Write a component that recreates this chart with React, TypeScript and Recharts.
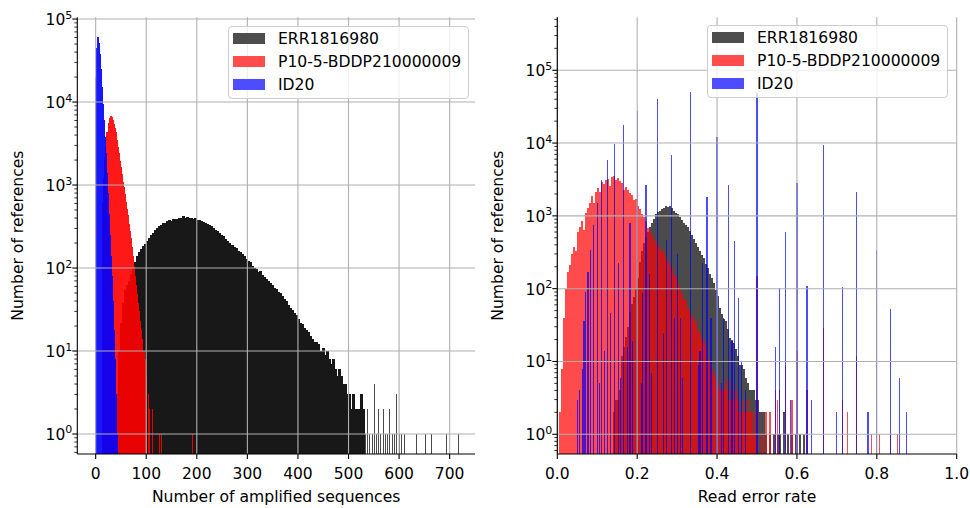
import React from 'react';
import { ComposedChart, Bar, XAxis, YAxis, ReferenceLine, Legend } from 'recharts';

// ---------------- data ----------------
const seriesNames = ['ERR1816980', 'P10-5-BDDP210000009', 'ID20'];
const legendColors = ['#4d4d4d', '#ff4d4d', '#4d4dff'];

// Left panel: number of amplified sequences per reference
const ampTicks = [0, 100, 200, 300, 400, 500, 600, 700];
const ampDomain: [number, number] = [-36.3, 750.1];
const ampCountDomain: [number, number] = [0.574, 105000];

const ampErrStart = 42;
const ampErrStep = 4;
const ampErrCounts = [
  3, 10, 22, 38, 55, 62, 70, 85, 100, 118,
  140, 155, 170, 182, 195, 210, 232, 250, 265, 285,
  300, 318, 330, 345, 352, 368, 378, 372, 388, 395,
  392, 405, 398, 418, 402, 410, 398, 405, 392, 396,
  380, 384, 366, 360, 352, 340, 332, 318, 305, 290,
  282, 265, 248, 240, 226, 214, 200, 192, 180, 172,
  162, 155, 146, 138, 128, 122, 118, 106, 100, 96,
  90, 92, 82, 78, 74, 70, 66, 62, 58, 56,
  52, 50, 46, 42, 40, 36, 33, 31, 29, 27,
  24, 22, 21, 19, 18, 17, 15, 14, 13, 13,
  12, 10, 11, 9, 10, 8, 7, 8, 6, 5,
  6, 5, 4, 4, 3, 3, 2, 3, 2, 2,
  2, 3, 2,
];
const ampErrTail: [number, number][] = [
  [534, 1], [538, 2], [542, 1], [547, 1], [551, 4], [556, 1], [560, 2], [564, 1],
  [569, 2], [573, 1], [578, 1], [582, 2], [587, 1], [591, 1], [595, 3], [600, 1],
  [605, 1], [611, 1], [635, 1], [652, 1], [664, 1], [694, 1], [717, 1],
];

const ampP10Start = 15;
const ampP10Step = 2;
const ampP10Counts = [
  600, 1200, 2000, 2900, 4300, 5600, 6400, 6800, 6850, 6600,
  6100, 5500, 4900, 4300, 3500, 2900, 2400, 1950, 1650, 1350,
  1100, 950, 780, 630, 520, 430, 340, 280, 230, 180,
  140, 105, 80, 62, 48, 38, 30, 23, 18, 14,
  10, 8, 5,
];
const ampP10Tail: [number, number][] = [[105, 3], [107, 2], [113, 2], [127, 1], [131, 1], [191, 1]];

const ampIdStart = 1;
const ampIdStep = 2;
const ampIdCounts = [
  20000, 45000, 60000, 52000, 38000, 25000, 15000, 9500, 6000, 3800,
  2400, 1400, 800, 450, 250, 140, 80, 40, 18, 8, 3, 1,
];

// Right panel: read error rate per reference
const rateTicks = [0, 0.2, 0.4, 0.6, 0.8, 1.0];
const rateDomain: [number, number] = [0, 1];
const rateCountDomain: [number, number] = [0.536, 534000];

const rateErrStart = 0.1425;
const rateErrStep = 0.005;
const rateErrCounts = [
  2, 3, 3, 4, 12, 16, 22, 30, 48, 62,
  76, 100, 142, 230, 330, 430, 520, 600, 700, 800,
  900, 1050, 1120, 1180, 1230, 1300, 1370, 1340, 1370, 1280,
  1170, 1100, 1050, 950, 880, 810, 760, 700, 620, 540,
  480, 420, 370, 330, 290, 260, 220, 195, 160, 140,
  120, 95, 80, 55, 45, 38, 36, 28, 21, 19,
  18, 15, 12, 9, 9, 8, 6, 5, 4, 4,
  4, 3, 3, 2, 2, 2, 1,
];
const rateErrTail: [number, number][] = [
  [0.5325, 1], [0.5425, 1], [0.5525, 1], [0.5575, 1], [0.5675, 2],
  [0.5775, 1], [0.5875, 1], [0.5975, 1], [0.6075, 1], [0.6175, 1],
];

const rateP10Start = 0.0075;
const rateP10Step = 0.005;
const rateP10Counts = [
  2, 8, 40, 100, 170, 210, 300, 370, 330, 600,
  700, 850, 640, 1100, 1300, 1500, 1900, 1500, 2100, 2400,
  2100, 2900, 2700, 3150, 3200, 2600, 3400, 3500, 3100, 3300,
  3000, 2800, 2300, 2500, 2300, 2050, 1950, 1650, 1700, 1350,
  1250, 1050, 950, 850, 680, 620, 560, 480, 430, 400,
  360, 330, 320, 270, 240, 210, 195, 160, 145, 115,
  100, 85, 72, 69, 55, 50, 42, 38, 35, 28,
  25, 21, 19, 17, 12, 10, 8, 7, 6, 5,
  4, 4, 5, 4, 6, 3, 5, 3, 4, 3,
  2, 3, 2, 2, 3, 2, 2, 1, 2,
];
const rateP10Spikes: [number, number][] = [
  [0.5, 150], [0.5125, 1], [0.5225, 2], [0.5325, 2], [0.5455, 4], [0.5513, 3], [0.5556, 4],
  [0.5714, 9], [0.5875, 3], [0.6, 14], [0.625, 4], [0.6667, 29], [0.7143, 3], [0.7275, 2],
  [0.75, 12], [0.7875, 1], [0.8075, 1], [0.8333, 1], [0.8525, 1],
];

const rateIdSpikes: [number, number][] = [
  [0.05, 3], [0.0556, 4], [0.0625, 8], [0.0667, 36], [0.0714, 91], [0.0769, 170], [0.0833, 340],
  [0.0909, 750], [0.1, 1480], [0.1053, 5], [0.1111, 3100], [0.1176, 14], [0.125, 5850], [0.1333, 46],
  [0.1429, 9800], [0.1538, 224], [0.1579, 6], [0.1667, 17500], [0.1765, 16], [0.1818, 790],
  [0.1875, 19], [0.2, 27500], [0.2105, 5], [0.2143, 87], [0.2222, 2650], [0.2308, 160], [0.2353, 7],
  [0.25, 40000], [0.2667, 25], [0.2727, 467], [0.2857, 6900], [0.2941, 40], [0.3, 300], [0.3077, 40],
  [0.3125, 6], [0.3333, 50000], [0.3529, 9], [0.3571, 14], [0.3636, 224], [0.375, 1830], [0.3846, 39],
  [0.4, 12000], [0.4118, 5], [0.4167, 40], [0.4286, 2650], [0.4375, 20], [0.4444, 455], [0.4545, 74],
  [0.4615, 10], [0.4706, 4], [0.5, 49000], [0.5455, 16], [0.5556, 101], [0.5714, 610], [0.5833, 3],
  [0.6, 2800], [0.625, 110], [0.6364, 3], [0.6667, 9400], [0.7, 2], [0.7143, 107], [0.75, 2150],
  [0.7778, 2], [0.8, 340], [0.8333, 53], [0.8571, 6], [0.875, 2],
];

const logMajors = [1, 10, 100, 1000, 10000, 100000];

// ---------------- helpers ----------------
const FONT = '"DejaVu Sans", sans-serif';

type Row = { x: number; [k: string]: number };

const fromBins = (start: number, step: number, counts: number[]): [number, number][] =>
  counts.map((c, i) => [Number((start + i * step).toFixed(6)), c]);

function buildRows(parts: { key: string; pts: [number, number][] }[]): Row[] {
  const m = new Map<string, Row>();
  parts.forEach(({ key, pts }) => {
    pts.forEach(([x, v]) => {
      const id = x.toFixed(6);
      let r = m.get(id);
      if (!r) {
        r = { x };
        m.set(id, r);
      }
      r[key] = v;
    });
  });
  return Array.from(m.values()).sort((a, b) => a.x - b.x);
}

function logTicks(lo: number, hi: number): number[] {
  const out: number[] = [];
  for (let e = -1; e <= 6; e++) {
    for (let s = 1; s <= 9; s++) {
      const v = Number((s * Math.pow(10, e)).toPrecision(6));
      if (v >= lo && v <= hi) out.push(v);
    }
  }
  return out;
}

const barShape = (w: number) => (p: any) => {
  const { x, y, width, height, fill } = p;
  if (!Number.isFinite(x) || !Number.isFinite(y) || !Number.isFinite(width) || !(height > 0)) return <g />;
  return <rect x={x + width / 2 - w / 2} y={y} width={w} height={height} fill={fill} />;
};

const LogYTick = (props: any) => {
  const { x, y, payload } = props;
  const v = payload.value;
  const lg = Math.log10(v);
  const e = Math.round(lg);
  const major = Math.abs(lg - e) < 1e-6;
  return (
    <g>
      <line x1={x} x2={x - (major ? 5 : 3)} y1={y} y2={y} stroke="#000" strokeWidth={major ? 1.1 : 0.8} />
      {major && (
        <text x={x - 5} y={y + 6} textAnchor="end" fontFamily={FONT} fontSize={15.5} fill="#000">
          10
          <tspan dy={-6.5} fontSize={11}>
            {e}
          </tspan>
        </text>
      )}
    </g>
  );
};

const makeXTick = (fmt: (v: number) => string) => (props: any) => {
  const { x, y, payload } = props;
  return (
    <g>
      <line x1={x} x2={x} y1={y} y2={y + 5} stroke="#000" strokeWidth={1.1} />
      <text x={x} y={y + 25} textAnchor="middle" fontFamily={FONT} fontSize={15.5} fill="#000">
        {fmt(payload.value)}
      </text>
    </g>
  );
};

const yTitle = (text: string) => (p: any) => {
  const vb = p.viewBox || {};
  const cx = vb.x + vb.width - 59.5;
  const cy = vb.y + vb.height / 2;
  return (
    <text
      x={cx}
      y={cy}
      transform={`rotate(-90 ${cx} ${cy})`}
      textAnchor="middle"
      dominantBaseline="central"
      fontFamily={FONT}
      fontSize={15.6}
      fill="#000"
    >
      {text}
    </text>
  );
};

const xTitle = (text: string) => (p: any) => {
  const vb = p.viewBox || {};
  return (
    <text x={vb.x + vb.width / 2} y={vb.y + 48} textAnchor="middle" fontFamily={FONT} fontSize={15.6} fill="#000">
      {text}
    </text>
  );
};

const LegendBox = () => (
  <div
    style={{
      background: 'rgba(255,255,255,0.8)',
      border: '1px solid #cccccc',
      borderRadius: 4,
      padding: '0px 6px 3px 4px',
      boxSizing: 'border-box',
      width: 241,
      height: 73,
      fontFamily: FONT,
      fontSize: 15.6,
      color: '#000',
    }}
  >
    {seriesNames.map((n, i) => (
      <div key={n} style={{ display: 'flex', alignItems: 'center', height: 23, whiteSpace: 'nowrap' }}>
        <span style={{ display: 'inline-block', width: 32, height: 11, background: legendColors[i], marginRight: 13 }} />
        {n}
      </div>
    ))}
  </div>
);

const css = `.op9 { opacity: 0.9; } .op7 { opacity: 0.7; } .op9 rect, .op7 rect { shape-rendering: crispEdges; }`;

const gridStroke = '#b0b0b0';

const ampRows = buildRows([
  { key: 'err', pts: fromBins(ampErrStart, ampErrStep, ampErrCounts) },
  { key: 'errTail', pts: ampErrTail },
  { key: 'p10', pts: fromBins(ampP10Start, ampP10Step, ampP10Counts) },
  { key: 'p10Tail', pts: ampP10Tail },
  { key: 'id', pts: fromBins(ampIdStart, ampIdStep, ampIdCounts) },
]);

const rateRows = buildRows([
  { key: 'err', pts: fromBins(rateErrStart, rateErrStep, rateErrCounts) },
  { key: 'errTail', pts: rateErrTail },
  { key: 'p10', pts: fromBins(rateP10Start, rateP10Step, rateP10Counts) },
  { key: 'p10Spk', pts: rateP10Spikes },
  { key: 'id', pts: rateIdSpikes },
]);

type PanelProps = {
  rows: Row[];
  xDomain: [number, number];
  yDomain: [number, number];
  xTicks: number[];
  xFmt: (v: number) => string;
  yWidth: number;
  rightMargin: number;
  xLabel: string;
  legendLeft: number;
  legendTop: number;
  bars: { key: string; color: string; cls: string; w: number }[];
};

function Panel(props: PanelProps) {
  const { rows, xDomain, yDomain, xTicks, xFmt, yWidth, rightMargin, xLabel, legendLeft, legendTop, bars } = props;
  const yTicksAll = logTicks(yDomain[0], yDomain[1]);
  return (
    <ComposedChart
      width={485}
      height={508}
      data={rows}
      margin={{ top: 17.3, right: rightMargin, bottom: 0, left: 0 }}
      barCategoryGap={0}
      barGap={0}
    >
      <XAxis
        xAxisId="x"
        dataKey="x"
        type="number"
        domain={xDomain}
        allowDataOverflow
        ticks={xTicks}
        interval={0}
        tick={makeXTick(xFmt)}
        tickLine={false}
        tickSize={0}
        tickMargin={0}
        height={54}
        axisLine={{ stroke: '#000', strokeWidth: 1.1 }}
        label={xTitle(xLabel)}
      />
      <XAxis
        xAxisId="top"
        orientation="top"
        dataKey="x"
        type="number"
        domain={xDomain}
        allowDataOverflow
        height={0}
        tick={false}
        tickLine={false}
        axisLine={{ stroke: '#000', strokeWidth: 1.1 }}
      />
      {bars.map((b) => (
        <XAxis
          key={'ax-' + b.key}
          xAxisId={'ax-' + b.key}
          dataKey="x"
          type="number"
          domain={xDomain}
          allowDataOverflow
          height={0}
          hide
        />
      ))}
      <YAxis
        yAxisId="y"
        type="number"
        scale="log"
        domain={yDomain}
        allowDataOverflow
        ticks={yTicksAll}
        interval={0}
        tick={<LogYTick />}
        tickLine={false}
        tickSize={0}
        tickMargin={0}
        width={yWidth}
        axisLine={{ stroke: '#000', strokeWidth: 1.1 }}
        label={yTitle('Number of references')}
      />
      <YAxis
        yAxisId="right"
        orientation="right"
        type="number"
        scale="log"
        domain={yDomain}
        allowDataOverflow
        width={0}
        tick={false}
        tickLine={false}
        axisLine={{ stroke: '#000', strokeWidth: 1.1 }}
      />
      {bars.map((b) => (
        <Bar
          key={b.key}
          dataKey={b.key}
          xAxisId={'ax-' + b.key}
          yAxisId="y"
          fill={b.color}
          className={b.cls}
          shape={barShape(b.w)}
          isAnimationActive={false}
          legendType="none"
        />
      ))}
      {logMajors.map((v) => (
        <ReferenceLine key={'gy' + v} y={v} xAxisId="x" yAxisId="y" stroke={gridStroke} strokeWidth={1.1} zIndex={350} />
      ))}
      {xTicks.map((v) => (
        <ReferenceLine key={'gx' + v} x={v} xAxisId="x" yAxisId="y" stroke={gridStroke} strokeWidth={1.1} zIndex={350} />
      ))}
      <Legend
        layout="horizontal"
        verticalAlign="middle"
        align="center"
        wrapperStyle={{ left: legendLeft, top: legendTop, width: 241, height: 73 }}
        content={() => <LegendBox />}
      />
    </ComposedChart>
  );
}

export default function App() {
  return (
    <div style={{ position: 'absolute', left: 0, top: 0, width: 970, height: 508, background: '#fff' }}>
      <style>{css}</style>
      <div style={{ position: 'absolute', left: 0, top: 0 }}>
        <Panel
          rows={ampRows}
          xDomain={ampDomain}
          yDomain={ampCountDomain}
          xTicks={ampTicks}
          xFmt={(v) => String(v)}
          yWidth={77.3}
          rightMargin={10}
          xLabel="Number of amplified sequences"
          legendLeft={228}
          legendTop={26}
          bars={[
            { key: 'err', color: '#000000', cls: 'op9', w: 2.6 },
            { key: 'errTail', color: '#000000', cls: 'op7', w: 1.0 },
            { key: 'p10', color: '#ff0000', cls: 'op9', w: 1.6 },
            { key: 'p10Tail', color: '#ff0000', cls: 'op9', w: 1.0 },
            { key: 'id', color: '#0000ff', cls: 'op9', w: 1.6 },
          ]}
        />
      </div>
      <div style={{ position: 'absolute', left: 485, top: 0 }}>
        <Panel
          rows={rateRows}
          xDomain={rateDomain}
          yDomain={rateCountDomain}
          xTicks={rateTicks}
          xFmt={(v) => v.toFixed(1)}
          yWidth={72.3}
          rightMargin={13.3}
          xLabel="Read error rate"
          legendLeft={222}
          legendTop={25}
          bars={[
            { key: 'err', color: '#000000', cls: 'op7', w: 2.2 },
            { key: 'errTail', color: '#000000', cls: 'op7', w: 1.2 },
            { key: 'p10', color: '#ff0000', cls: 'op7', w: 2.2 },
            { key: 'p10Spk', color: '#ff0000', cls: 'op7', w: 1.2 },
            { key: 'id', color: '#0000ff', cls: 'op7', w: 1.2 },
          ]}
        />
      </div>
    </div>
  );
}
